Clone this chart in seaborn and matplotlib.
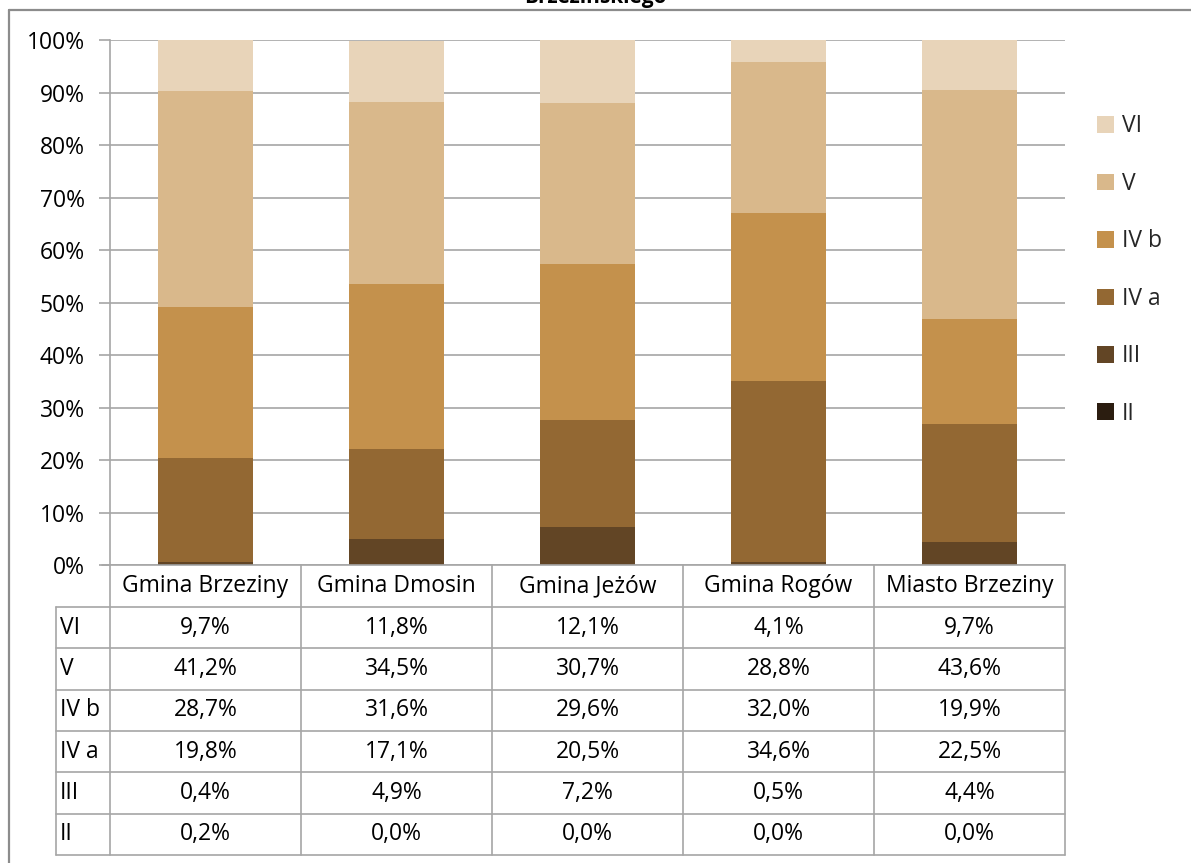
import matplotlib
matplotlib.use("Agg")
import matplotlib.pyplot as plt
from matplotlib.lines import Line2D
from matplotlib.patches import Patch
import numpy as np
import pandas as pd
import seaborn as sns

# --- data -------------------------------------------------------------
gminy = ["Gmina Brzeziny", "Gmina Dmosin", "Gmina Jeżów", "Gmina Rogów", "Miasto Brzeziny"]
klasy = ["II", "III", "IV a", "IV b", "V", "VI"]  # stacked bottom -> top

udzial_II = [0.2, 0.0, 0.0, 0.0, 0.0]
udzial_III = [0.4, 4.9, 7.2, 0.5, 4.4]
udzial_IVa = [19.8, 17.1, 20.5, 34.6, 22.5]
udzial_IVb = [28.7, 31.6, 29.6, 32.0, 19.9]
udzial_V = [41.2, 34.5, 30.7, 28.8, 43.6]
udzial_VI = [9.7, 11.8, 12.1, 4.1, 9.7]

tick_labels = ["0%", "10%", "20%", "30%", "40%", "50%", "60%", "70%", "80%", "90%", "100%"]

kolory = ["#2b1d10", "#624525", "#936833", "#c4914c", "#d9b88b", "#e8d4b9"]

series = [udzial_II, udzial_III, udzial_IVa, udzial_IVb, udzial_V, udzial_VI]

# --- figure -----------------------------------------------------------
sns.set_theme(style="white")
plt.rcParams["font.family"] = ["Open Sans", "DejaVu Sans"]

W, H = 1191, 863
fig = plt.figure(figsize=(W / 100, H / 100), dpi=100)

GRID = "#a6a6a6"
TXT = "#000000"
FS = 16.5

# pixel helpers for layout
def fx(px):
    return px / W

def fy(py):
    return 1 - py / H

x_left, x_right = 110, 1065
y_top, y_zero = 40, 565

ax = fig.add_axes([fx(x_left), fy(y_zero), fx(x_right) - fx(x_left), fy(y_top) - fy(y_zero)])

df = pd.DataFrame({"gmina": gminy})
bottom = np.zeros(len(gminy))
for name, vals, col in zip(klasy, series, kolory):
    df["val"] = vals
    sns.barplot(data=df, x="gmina", y="val", color=col, width=0.5, bottom=bottom,
                ax=ax, saturation=1, linewidth=0, zorder=3)
    bottom = bottom + np.array(vals)

ax.set_xlim(-0.5, len(gminy) - 0.5)
ax.set_ylim(0, 100)
ax.set_yticks(np.arange(0, 101, 10))
ax.set_yticklabels(tick_labels, fontsize=FS, color=TXT)
ax.set_xticks([])
ax.set_xlabel("")
ax.set_ylabel("")
ax.yaxis.grid(True, color=GRID, linewidth=1.2, zorder=0)
ax.set_axisbelow(True)
for s in ["top", "right", "bottom"]:
    ax.spines[s].set_visible(False)
ax.spines["left"].set_color(GRID)
ax.spines["left"].set_linewidth(1.2)
ax.tick_params(axis="y", which="major", left=True, length=8, width=1.2,
               color=GRID, pad=10)
ax.patch.set_alpha(0)

# --- data table under the bars -----------------------------------------
ov = fig.add_axes([0, 0, 1, 1], zorder=5)
ov.set_xlim(0, W)
ov.set_ylim(H, 0)
ov.axis("off")
ov.patch.set_alpha(0)

col_w = (x_right - x_left) / len(gminy)
col_edges = [x_left + i * col_w for i in range(len(gminy) + 1)]
row_h = (855 - 607) / len(klasy)
header_bottom = 607
row_edges = [header_bottom + i * row_h for i in range(len(klasy) + 1)]
lab_left = 56

lw = 1.2
# 0% line / header top
ov.add_line(Line2D([102, x_right], [y_zero, y_zero], color=GRID, lw=lw))
# horizontal row lines
for yy in row_edges:
    ov.add_line(Line2D([lab_left, x_right], [yy, yy], color=GRID, lw=lw))
# vertical column lines
for xx in col_edges:
    ov.add_line(Line2D([xx, xx], [y_zero, row_edges[-1]], color=GRID, lw=lw))
ov.add_line(Line2D([lab_left, lab_left], [header_bottom, row_edges[-1]], color=GRID, lw=lw))

# header texts
for i, g in enumerate(gminy):
    ov.text(col_edges[i] + col_w / 2, (y_zero + header_bottom) / 2, g,
            ha="center", va="center", fontsize=FS, color=TXT)

# rows: top row is VI
rows_top_down = list(zip(klasy, series))[::-1]
for r, (name, vals) in enumerate(rows_top_down):
    yc = row_edges[r] + row_h / 2
    ov.text(lab_left + 4, yc, name, ha="left", va="center", fontsize=FS, color=TXT)
    for i, v in enumerate(vals):
        ov.text(col_edges[i] + col_w / 2, yc, f"{v:.1f}%".replace(".", ","),
                ha="center", va="center", fontsize=FS, color=TXT)

# outer chart frame
FRAME = "#8c8c8c"
ov.add_line(Line2D([8.5, 8.5], [H + 5, 10.5], color=FRAME, lw=1.6))
ov.add_line(Line2D([8.5, W + 5], [10.5, 10.5], color=FRAME, lw=1.6))

# title (last line)
ov.text(W / 2, 3, "Brzezińskiego", ha="center", va="baseline",
        fontsize=15, fontweight="bold", color=TXT)

# --- legend -------------------------------------------------------------
handles = [Patch(facecolor=c, edgecolor="none", label=n) for n, c in zip(klasy, kolory)][::-1]
fig.legend(handles=handles, loc="upper left", bbox_to_anchor=(fx(1097), fy(114.5)),
           frameon=False, fontsize=FS, handlelength=0.74, handleheight=0.74,
           handletextpad=0.35, labelspacing=1.46, borderaxespad=0, borderpad=0)

fig.savefig("out.png", dpi=100)
